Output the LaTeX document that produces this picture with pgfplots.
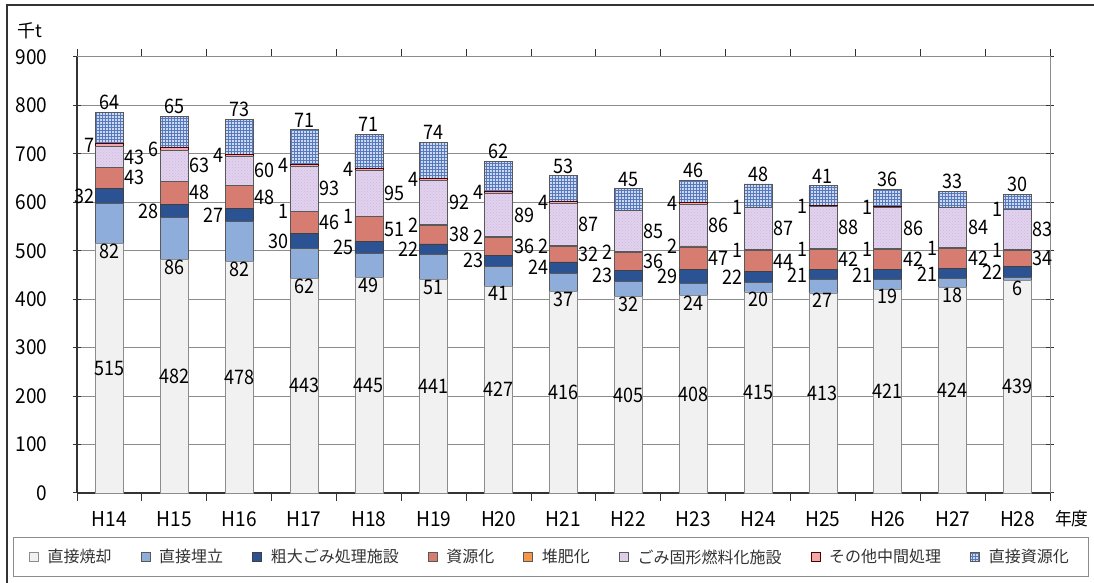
\documentclass[border=0pt]{standalone}
\usepackage{pgfplots}
\pgfplotsset{compat=1.18}
\usepackage{pgfplotstable}
\usepackage{fontspec}
\usetikzlibrary{patterns}
\setmainfont{Noto Sans CJK JP}
\newfontfamily\numfont[FakeStretch=0.9]{Noto Sans CJK JP}
\newfontfamily\tickfont[FakeStretch=0.93]{Noto Sans CJK JP}
\definecolor{cInc}{HTML}{F1F1F1}
\definecolor{cBur}{HTML}{8FADDB}
\definecolor{cBulky}{HTML}{2B5394}
\definecolor{cRes}{HTML}{D77C70}
\definecolor{cComp}{HTML}{F79646}
\definecolor{cRdf}{HTML}{DFD3EF}
\definecolor{cOth}{HTML}{F4A7A8}
\definecolor{cDir}{HTML}{CCD9EE}
\definecolor{cDirP}{HTML}{5578BE}
\definecolor{cGrid}{HTML}{8C8C8C}
\definecolor{cTxt}{HTML}{333333}
\pgfplotstableread{
x inc bur bulky res comp rdf oth dir
0 515 82 32 43 0 43 7 64
1 482 86 28 48 0 63 6 65
2 478 82 27 48 0 60 4 73
3 443 62 30 46 1 93 4 71
4 445 49 25 51 1 95 4 71
5 441 51 22 38 2 92 4 74
6 427 41 23 36 2 89 4 62
7 416 37 24 32 2 87 4 53
8 405 32 23 36 2 85 0 45
9 408 24 29 47 2 86 4 46
10 415 20 22 44 1 87 1 48
11 413 27 21 42 1 88 1 41
12 421 19 21 42 1 86 1 36
13 424 18 21 42 1 84 0 33
14 439 6 22 34 1 83 1 30
}\datatable
% y unit in pt (436pt for 900)
\newcommand{\U}{0.484444}
\newcommand{\numfs}{\numfont\fontsize{20}{22}\selectfont}
\newcommand{\tickfs}{\tickfont\fontsize{20.5}{22}\selectfont}
\begin{document}
\begin{tikzpicture}
\useasboundingbox (0,0) rectangle (1094pt,583pt);
\draw[cTxt,line width=1.5pt] (7pt,0pt) -- (7pt,578pt) -- (1094pt,578pt);
\begin{axis}[
  at={(77pt,90pt)}, anchor=south west,
  scale only axis, width=973pt, height=436pt,
  ybar stacked, bar width=28pt,
  xmin=-0.5, xmax=14.5, ymin=0, ymax=900,
  clip=false,
  ytick={0,100,...,900},
  xtick={-0.5,0.5,...,14.5}, xticklabels={},
  extra x ticks={0,1,...,14},
  extra x tick labels={H14,H15,H16,H17,H18,H19,H20,H21,H22,H23,H24,H25,H26,H27,H28},
  extra x tick style={major tick length=0pt, xticklabel style={yshift=-15pt}},
  xtick align=outside, ytick align=center,
  major tick length=8pt,
  tick style={black!80, line width=1pt},
  ymajorgrids, major grid style={cGrid, line width=1pt},
  axis line style={cGrid, line width=1pt},
  /pgf/number format/assume math mode=true,
  ticklabel style={font=\tickfs, text=black},
  yticklabel style={xshift=-22pt},
  point meta=rawy,
  visualization depends on=rawy \as \rawy,
  nodes near coords,
  legend columns=8,
  legend style={draw=none, fill=none, at={(0.486,-0.1468)}, anchor=center,
    font=\fontsize{16}{18}\selectfont, text=cTxt,
    /tikz/every even column/.append style={column sep=27pt},
    /tikz/every odd column/.append style={column sep=7pt},
    nodes={inner sep=2pt}},
  legend image code/.code={\draw[#1,line width=0.6pt] (0pt,-4.5pt) rectangle (9pt,4.5pt);},
]
\addplot+[fill=cInc, draw=black!45, line width=0.8pt,
  every node near coord/.style={font=\numfs, text=black, anchor=center}]
  table[x=x,y=inc]{\datatable};
\addlegendentry{直接焼却}
\addplot+[fill=cBur, draw=black!65, line width=0.8pt,
  every node near coord/.style={font=\numfs, text=black, anchor=north, inner sep=0pt, yshift={-0.5*\rawy*\U pt}}]
  table[x=x,y=bur]{\datatable};
\addlegendentry{直接埋立}
\addplot+[fill=cBulky, draw=black!75, line width=0.8pt,
  every node near coord/.style={font=\numfs, text=black, anchor=east, inner sep=1pt, xshift=-14pt}]
  table[x=x,y=bulky]{\datatable};
\addlegendentry{粗大ごみ処理施設}
\addplot+[fill=cRes, draw=black!65, line width=0.8pt,
  every node near coord/.style={font=\numfs, text=black, anchor=west, inner sep=1pt, xshift=14pt}]
  table[x=x,y=res]{\datatable};
\addlegendentry{資源化}
\addplot+[fill=cComp, draw=black!65, line width=0.8pt,
  every node near coord/.style={font=\numfs, text=black, anchor=east, inner sep=1pt, xshift=-14pt}]
  table[x=x,y=comp]{\datatable};
\addlegendentry{堆肥化}
\addplot+[fill=cRdf, draw=black!65, line width=0.8pt,
  postaction={pattern=crosshatch dots, pattern color=violet!30},
  every node near coord/.style={font=\numfs, text=black, anchor=west, inner sep=1pt, xshift=14pt}]
  table[x=x,y=rdf]{\datatable};
\addlegendentry{ごみ固形燃料化施設}
\addplot+[fill=cOth, draw=black!70!red, line width=0.8pt,
  every node near coord/.style={font=\numfs, text=black, anchor=east, inner sep=1pt, xshift=-14pt}]
  table[x=x,y=oth]{\datatable};
\addlegendentry{その他中間処理}
\addplot+[fill=cDir, draw=black!65, line width=0.8pt,
  postaction={pattern=grid, pattern color=cDirP},
  every node near coord/.style={font=\numfs, text=black, anchor=south, inner sep=2pt, yshift={0.5*\rawy*\U pt}}]
  table[x=x,y=dir]{\datatable};
\addlegendentry{直接資源化}
\draw[black!80, line width=1.5pt] (rel axis cs:0,0) -- (rel axis cs:0,1);
\draw[black!80, line width=1.5pt] (rel axis cs:0,0) -- (rel axis cs:1,0);
\end{axis}
\node[anchor=west, font=\fontsize{18}{20}\selectfont] at (14pt,552pt) {千t};
\node[anchor=west, inner sep=0pt, font=\tickfont\fontsize{18}{20}\selectfont] at (1055pt,64pt) {年度};
\draw[black!45, line width=1pt] (13pt,6pt) rectangle (1088pt,45pt);
\end{tikzpicture}
\end{document}
